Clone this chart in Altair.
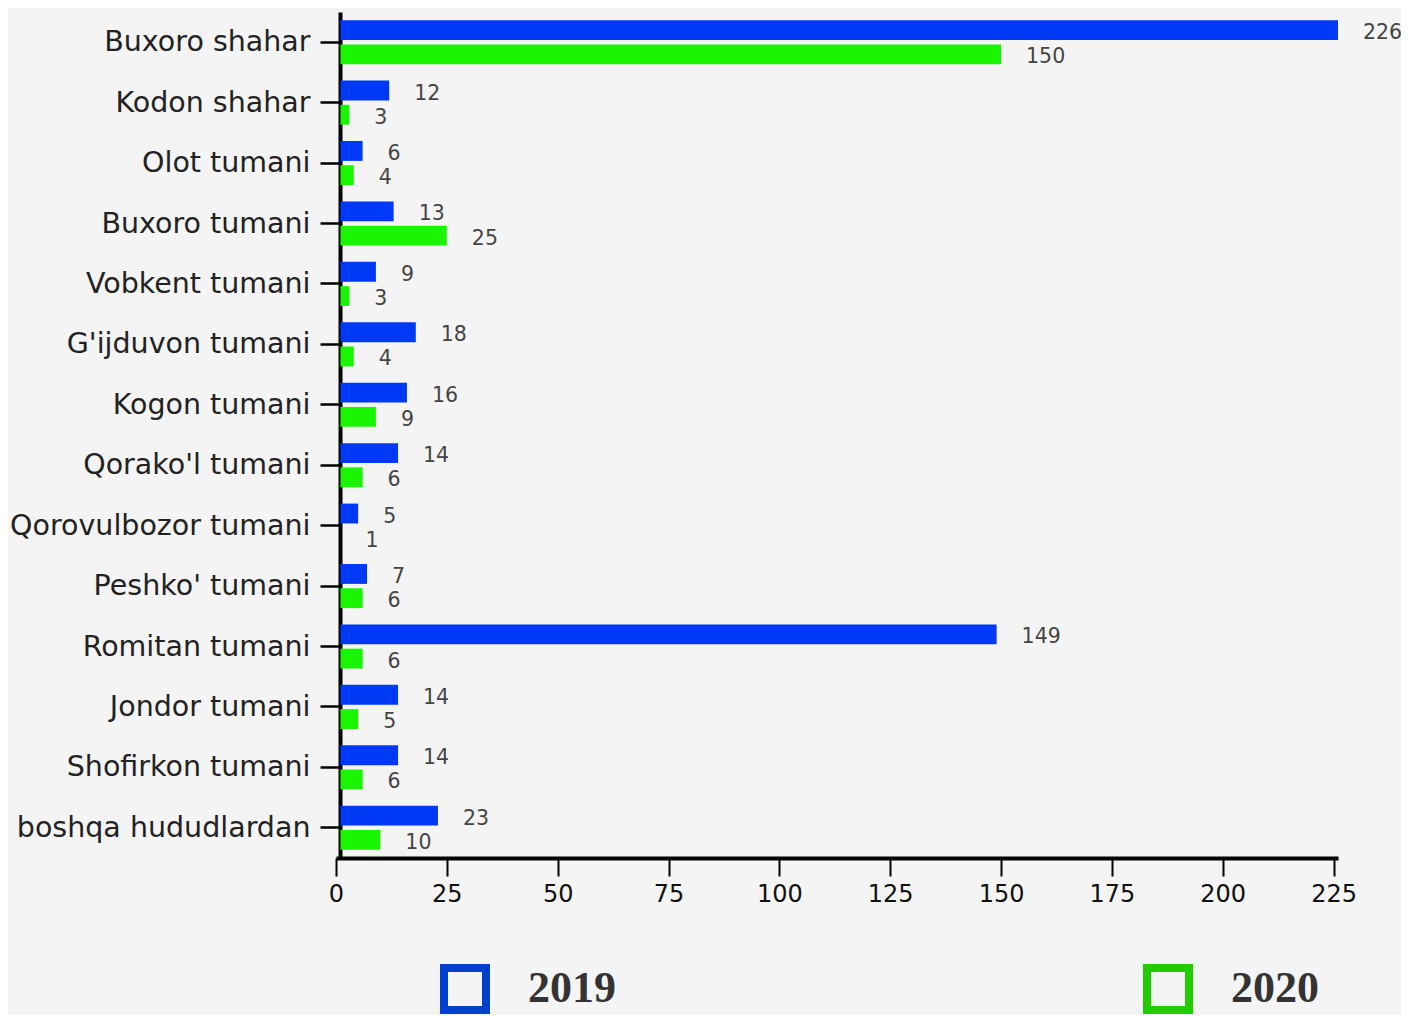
import altair as alt
import pandas as pd

regions = ["Buxoro shahar", "Kodon shahar", "Olot tumani", "Buxoro tumani", "Vobkent tumani",
           "G'ijduvon tumani", "Kogon tumani", "Qorako'l tumani", "Qorovulbozor tumani",
           "Peshko' tumani", "Romitan tumani", "Jondor tumani", "Shofirkon tumani",
           "boshqa hududlardan"]
v2019 = [226, 12, 6, 13, 9, 18, 16, 14, 5, 7, 149, 14, 14, 23]
v2020 = [150, 3, 4, 25, 3, 4, 9, 6, 1, 6, 6, 5, 6, 10]
years = ["2019", "2020"]
x_ticks = [0, 25, 50, 75, 100, 125, 150, 175, 200, 225]

rows = []
for r, a, b in zip(regions, v2019, v2020):
    rows.append({"region": r, "year": "2019", "value": a})
    rows.append({"region": r, "year": "2020", "value": b})
df = pd.DataFrame(rows)

FONT = "DejaVu Sans"
bar_colors = ["#0039F5", "#19F500"]
legend_colors = ["#0040CC", "#22CC00"]

xscale = alt.Scale(domain=[0, 226], nice=False)
yscale = alt.Scale(domain=regions, paddingInner=0.27, paddingOuter=0.135)
yoff = alt.YOffset("year:N", scale=alt.Scale(domain=years, paddingInner=0.18, paddingOuter=0))

base = alt.Chart(df)

bars = base.mark_bar().encode(
    x=alt.X("value:Q", scale=xscale,
            axis=alt.Axis(values=x_ticks, title=None, grid=False, domainColor="black",
                          domainWidth=4, tickColor="black", tickWidth=2, tickSize=18,
                          labelFontSize=24, labelColor="#111", labelFont=FONT,
                          labelPadding=6, labelFlush=False)),
    x2=alt.datum(1),
    y=alt.Y("region:N", scale=yscale, sort=regions,
            axis=alt.Axis(title=None, domainColor="black", domainWidth=4, tickColor="black",
                          tickWidth=2.5, tickSize=20, labelFontSize=28.5, labelColor="#222",
                          labelFont=FONT, labelPadding=10, labelLimit=400, offset=-4)),
    yOffset=yoff,
    fill=alt.Fill("year:N", scale=alt.Scale(range=bar_colors), legend=None),
)

labels = base.mark_text(align="left", baseline="middle", dx=25, dy=3, fontSize=20.5,
                        font=FONT, color="#444").encode(
    x=alt.X("value:Q", scale=xscale),
    y=alt.Y("region:N", scale=yscale, sort=regions),
    yOffset=yoff,
    text="value:Q",
)

legend_layer = base.mark_point(shape="square", filled=False, size=0, strokeWidth=8).encode(
    x=alt.X("value:Q", scale=xscale),
    y=alt.Y("region:N", scale=yscale, sort=regions),
    stroke=alt.Stroke("year:N", scale=alt.Scale(domain=years, range=legend_colors),
                      legend=alt.Legend(title=None, orient="none", legendX=104, legendY=952,
                                        direction="horizontal", columns=2,
                                        columnPadding=515, symbolType="square",
                                        symbolSize=1764, symbolStrokeWidth=8,
                                        symbolOpacity=1, symbolFillColor="transparent",
                                        labelFont="Liberation Serif", labelFontWeight="bold",
                                        labelFontSize=44, labelColor="#333",
                                        labelOffset=38, padding=0)),
)

chart = alt.layer(bars, labels, legend_layer).properties(
    width=1002, height=846,
    autosize=alt.AutoSizeParams(type="none"),
    padding={"left": 328, "top": 4, "right": 63, "bottom": 157},
    background="#f4f4f4",
).configure_view(stroke=None)

chart.save("out.html", embed_options={"renderer": "svg", "actions": False})
